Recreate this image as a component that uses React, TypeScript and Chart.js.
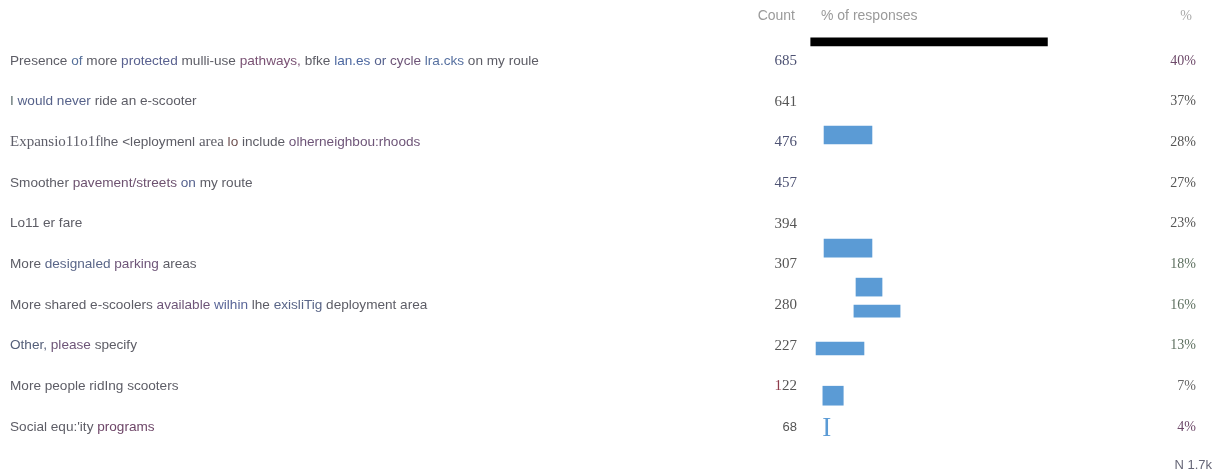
import { useEffect, useRef } from "react";
import { Chart, registerables } from "chart.js";

Chart.register(...registerables);

// ---------- data (as printed in the source) ----------
const answers = [
  "Presence of more protected mulli-use pathways, bfke lan.es or cycle lra.cks on my roule",
  "I would never ride an e-scooter",
  "Expansio11o1flhe <leploymenl area lo include olherneighbou:rhoods",
  "Smoother pavement/streets on my route",
  "Lo11 er fare",
  "More designaled parking areas",
  "More shared e-scoolers available wilhin lhe exisliTig deployment area",
  "Other, please specify",
  "More people ridIng scooters",
  "Social equ:'ity programs",
];
const counts = [685, 641, 476, 457, 394, 307, 280, 227, 122, 68];
const percents = [40, 37, 28, 27, 23, 18, 16, 13, 7, 4];
const headerLabels = ["Count", "% of responses", "%"];
const sampleSize = "N 1.7k";

// bars as they appear in the (misregistered) source:
// extent in "% of responses", vertical position in answer-row units
const barStarts = [0, 2.25, 2.25, 7.65, 7.3, 0.9, 2.05];
const barEnds = [40, 10.35, 10.35, 12.05, 15.1, 9.0, 5.5];
const barRows = [-0.47, 1.82, 4.6, 5.56, 6.15, 7.07, 8.23];
// stray glyph mark in the bar column
const glyphTexts = ["I"];
const glyphPcts = [2.7];
const glyphRows = [9];

// ---------- styles ----------
const SANS = '"Liberation Sans", Arial, sans-serif';
const SERIF = '"Liberation Serif", "Times New Roman", serif';
const BLUE = "#5b9bd5";
const BAR_THICKNESS = [8, 18, 18, 18, 12, 13, 19];
const BAR_COLORS = ["#000000", BLUE, BLUE, BLUE, BLUE, BLUE, BLUE];
const LABEL_BASE = "#5d5d66";
const LABEL_TINTS: Record<number, Record<number, string>> = {
  0: { 1: "#56709a", 3: "#5a6290", 5: "#7a5274", 7: "#4d68a0", 8: "#56628e", 9: "#6e5578", 10: "#5670a0" },
  1: { 0: "#5f7070", 1: "#56628a", 2: "#56628a" },
  2: { 0: "#5f5f6a", 3: "#6e5050", 5: "#6e5578" },
  3: { 1: "#6e5270", 2: "#56628e" },
  5: { 1: "#5a6688", 2: "#6e5578" },
  6: { 3: "#6e5578", 4: "#5a6698", 6: "#5a6688" },
  7: { 0: "#56607a", 1: "#6e5578" },
  9: { 2: "#6e4668" },
};
const LABEL_SERIF_RANGES: Record<number, number[][]> = { 2: [[0, 13], [29, 33]] };
const COUNT_COLORS = ["#4d5273", "#555555", "#4d5273", "#4d5273", "#555555", "#555555", "#555555", "#555555", "#555555", "#555555"];
const PCT_COLORS = ["#6e4a6a", "#555555", "#555555", "#555555", "#555555", "#5e7060", "#5e7060", "#5e7060", "#666666", "#6e4a6a"];

const LABEL_LEFT = 10;
const COUNT_RIGHT = 797;
const PCT_RIGHT = 1196;
const HEADER_ROW = -1.107;
const FOOT_ROW = 9.934;

function drawLabel(ctx: CanvasRenderingContext2D, row: number, text: string, y: number) {
  const tints = LABEL_TINTS[row] || {};
  const serif = LABEL_SERIF_RANGES[row] || [];
  const styles: { font: string; color: string }[] = [];
  let word = 0;
  for (let i = 0; i < text.length; i++) {
    const ch = text[i];
    if (ch === " " && i > 0 && text[i - 1] !== " ") word++;
    const isSerif = serif.some(([a, b]) => i >= a && i < b);
    styles.push({
      font: isSerif ? `15px ${SERIF}` : `13.6px ${SANS}`,
      color: ch === " " ? LABEL_BASE : tints[word] || LABEL_BASE,
    });
  }
  let x = LABEL_LEFT;
  let i = 0;
  ctx.textAlign = "left";
  while (i < text.length) {
    let j = i + 1;
    while (j < text.length && styles[j].font === styles[i].font && styles[j].color === styles[i].color) j++;
    const run = text.slice(i, j);
    ctx.font = styles[i].font;
    ctx.fillStyle = styles[i].color;
    ctx.fillText(run, x, y);
    x += ctx.measureText(run).width;
    i = j;
  }
}

const textPlugin = {
  id: "surveyText",
  afterDatasetsDraw(chart: any) {
    const ctx: CanvasRenderingContext2D = chart.ctx;
    const xs = chart.scales.x;
    const ys = chart.scales.y;
    ctx.save();
    ctx.textBaseline = "middle";

    // header
    const hy = ys.getPixelForValue(HEADER_ROW);
    ctx.fillStyle = "#9a9a9a";
    ctx.font = `14px ${SANS}`;
    ctx.textAlign = "right";
    ctx.fillText(headerLabels[0], 795, hy);
    ctx.textAlign = "left";
    ctx.fillText(headerLabels[1], 821, hy);
    ctx.textAlign = "right";
    ctx.fillStyle = "#aaaaaa";
    ctx.font = `14px ${SERIF}`;
    ctx.fillText(headerLabels[2], 1192, hy);

    // rows
    answers.forEach((label, r) => {
      const y = ys.getPixelForValue(r);
      drawLabel(ctx, r, label, y);

      const ct = String(counts[r]);
      ctx.font = ct.length < 3 ? `13px ${SANS}` : `15px ${SERIF}`;
      const w = ctx.measureText(ct).width;
      ctx.textAlign = "left";
      if (r === 8) {
        ctx.fillStyle = "#8e3b4a";
        ctx.fillText(ct[0], COUNT_RIGHT - w, y);
        ctx.fillStyle = COUNT_COLORS[r];
        ctx.fillText(ct.slice(1), COUNT_RIGHT - w + ctx.measureText(ct[0]).width, y);
      } else {
        ctx.fillStyle = COUNT_COLORS[r];
        ctx.fillText(ct, COUNT_RIGHT - w, y);
      }

      ctx.font = `14px ${SERIF}`;
      ctx.textAlign = "right";
      ctx.fillStyle = PCT_COLORS[r];
      ctx.fillText(percents[r] + "%", PCT_RIGHT, y);
    });

    // stray glyphs
    glyphTexts.forEach((g, i) => {
      ctx.font = `27px ${SERIF}`;
      ctx.fillStyle = BLUE;
      ctx.textAlign = "center";
      ctx.textBaseline = "alphabetic";
      ctx.fillText(g, xs.getPixelForValue(glyphPcts[i]), ys.getPixelForValue(glyphRows[i]) + 9);
    });

    // footer
    ctx.textBaseline = "middle";
    ctx.font = `13px ${SANS}`;
    ctx.fillStyle = "#666677";
    ctx.textAlign = "right";
    ctx.fillText(sampleSize, 1212, ys.getPixelForValue(FOOT_ROW));
    ctx.restore();
  },
};

export default function App() {
  const ref = useRef<HTMLCanvasElement | null>(null);
  useEffect(() => {
    if (!ref.current) return;
    const chart = new Chart(ref.current, {
      type: "bar",
      data: {
        datasets: barStarts.map((s, i) => ({
          data: [{ x: [s, barEnds[i]], y: barRows[i] }],
          backgroundColor: BAR_COLORS[i],
          borderWidth: 0,
          barThickness: BAR_THICKNESS[i],
          grouped: false,
        })) as any,
      },
      options: {
        indexAxis: "y",
        animation: false,
        responsive: true,
        maintainAspectRatio: false,
        layout: { padding: 0 },
        scales: {
          x: { type: "linear", min: -137, max: 69.5, display: false, offset: false, bounds: "data", grace: 0 },
          y: { type: "linear", min: -1.5, max: 10.18, reverse: true, display: false, offset: false, bounds: "data", grace: 0 },
        },
        plugins: { legend: { display: false }, tooltip: { enabled: false } },
      } as any,
      plugins: [textPlugin],
    });
    return () => chart.destroy();
  }, []);
  return (
    <div style={{ position: "absolute", left: 0, top: 0, width: 1222, height: 475, background: "#fff" }}>
      <canvas ref={ref} />
    </div>
  );
}
